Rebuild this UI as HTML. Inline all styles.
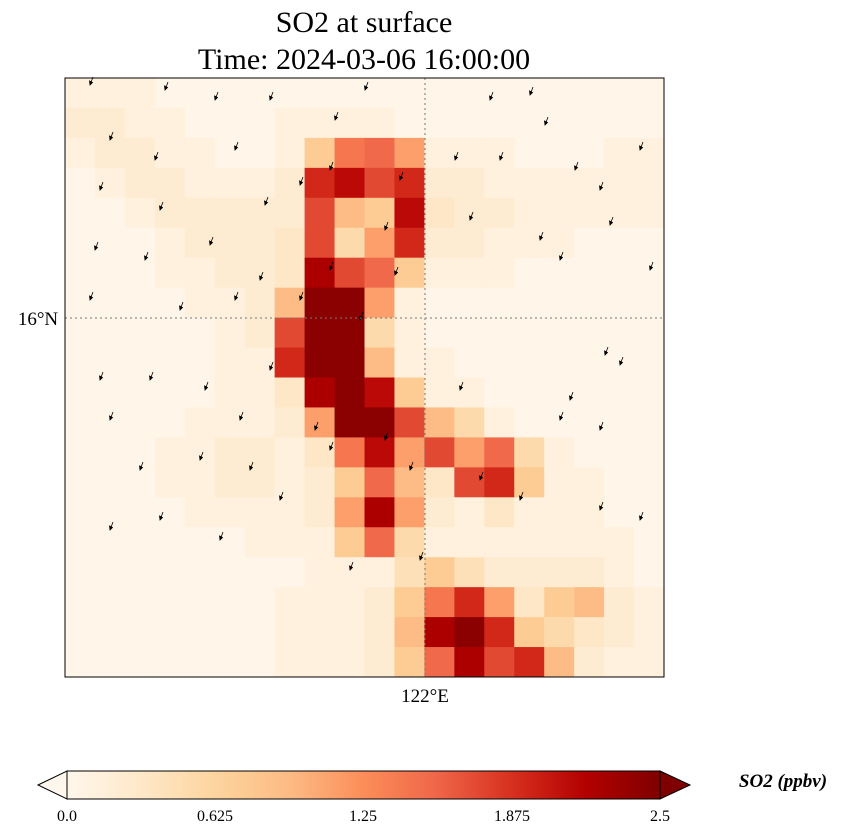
<!DOCTYPE html>
<html><head><meta charset="utf-8">
<style>
body{margin:0;background:#fff;width:841px;height:836px;overflow:hidden;font-family:"Liberation Serif",serif;}
svg{position:absolute;left:0;top:0;}
</style></head>
<body>
<svg id="s" width="841" height="836">
<text x="364" y="32" font-size="30" text-anchor="middle">SO2 at surface</text>
<text x="364" y="69" font-size="30" text-anchor="middle">Time: 2024-03-06 16:00:00</text>
<g id="heat"></g>
<g id="arrows"></g>
<line x1="425" y1="78" x2="425" y2="677" stroke="#777" stroke-dasharray="2,3"/>
<line x1="65" y1="318" x2="664" y2="318" stroke="#777" stroke-dasharray="2,3"/>
<rect x="65" y="78" width="599" height="599" fill="none" stroke="#000"/>
<text x="38" y="325" font-size="19" text-anchor="middle">16°N</text>
<text x="425" y="702" font-size="19" text-anchor="middle">122°E</text>
<defs><linearGradient id="cg" x1="0" x2="1" y1="0" y2="0">
<stop offset="0" stop-color="#fff7ec"/><stop offset="0.125" stop-color="#fee8c8"/><stop offset="0.25" stop-color="#fdd49e"/><stop offset="0.375" stop-color="#fdbb84"/><stop offset="0.5" stop-color="#fc8d59"/><stop offset="0.625" stop-color="#ef6548"/><stop offset="0.75" stop-color="#d7301f"/><stop offset="0.875" stop-color="#b30000"/><stop offset="1" stop-color="#7f0000"/></linearGradient></defs>
<g>
<polygon points="38,785 67,771 67,799" fill="#fff7ec" stroke="#000"/>
<polygon points="660,771 690,785 660,799" fill="#7f0000" stroke="#000"/>
<rect x="67" y="771" width="593" height="28" fill="url(#cg)" stroke="#000"/>
<text x="67" y="821" font-size="16" text-anchor="middle">0.0</text>
<text x="215" y="821" font-size="16" text-anchor="middle">0.625</text>
<text x="363" y="821" font-size="16" text-anchor="middle">1.25</text>
<text x="512" y="821" font-size="16" text-anchor="middle">1.875</text>
<text x="660" y="821" font-size="16" text-anchor="middle">2.5</text>
</g>
<text x="783" y="787" font-size="19" font-weight="bold" font-style="italic" text-anchor="middle">SO2 (ppbv)</text>
</svg>
<script>
const rows = [
"2 2 2 1 1 1 1 1 1 1 1 1 1 1 1 1 1 1 1 1",
"3 3 2 2 1 1 1 2 2 2 2 1 1 1 1 1 1 1 1 1",
"2 3 3 2 2 1 1 2 8 15 16 12 2 2 2 1 1 1 2 2",
"1 2 3 3 2 2 2 3 20 22 18 20 3 3 2 2 2 2 2 2",
"1 1 2 3 3 3 3 3 18 10 8 22 4 3 3 2 2 2 2 2",
"1 1 1 2 3 3 3 4 18 6 12 20 3 3 2 2 2 1 1 1",
"1 1 1 2 2 3 3 4 23 18 16 8 2 2 2 1 1 1 1 1",
"1 1 1 1 2 2 3 10 25 25 12 2 1 1 1 1 1 1 1 1",
"1 1 1 1 1 2 3 18 25 25 6 2 1 1 1 1 1 1 1 1",
"1 1 1 1 1 2 2 20 25 25 10 2 2 1 1 1 1 1 1 1",
"1 1 1 1 1 2 2 4 23 25 22 8 2 2 1 1 1 1 1 1",
"1 1 1 1 2 2 2 3 12 25 25 18 10 6 2 1 1 1 1 1",
"1 1 1 2 2 3 3 2 4 15 22 12 18 12 16 6 2 1 1 1",
"1 1 1 2 2 3 3 2 3 8 16 10 4 18 20 8 2 2 1 1",
"1 1 1 1 2 2 2 2 3 12 23 12 3 2 4 2 2 2 1 1",
"1 1 1 1 1 1 2 2 2 8 16 6 2 2 2 2 2 2 2 1",
"1 1 1 1 1 1 1 1 2 2 2 5 8 5 3 3 3 3 2 1",
"1 1 1 1 1 1 1 2 2 2 3 8 15 20 12 4 8 10 3 2",
"1 1 1 1 1 1 1 2 2 2 3 10 23 25 20 8 6 4 3 2",
"1 1 1 1 1 1 1 2 2 2 3 8 16 23 18 20 10 3 2 2"];
const stops=["#fff7ec","#fee8c8","#fdd49e","#fdbb84","#fc8d59","#ef6548","#d7301f","#b30000","#7f0000"];
function hex(c){return [1,3,5].map(i=>parseInt(c.substr(i,2),16));}
function cmap(v){let t=Math.max(0,Math.min(1,v/2.5))*8;let i=Math.min(7,Math.floor(t));let f=t-i;
 let a=hex(stops[i]),b=hex(stops[i+1]);return "rgb("+a.map((x,k)=>Math.round(x+(b[k]-x)*f)).join(",")+")";}
const x0=65,y0=78,W=599,H=599;
const grid=rows.map(r=>r.split(" ").map(Number));
const nr=grid.length,nc=grid[0].length;
const xs=i=>x0+i*W/nc, ys=j=>y0+j*H/nr;
const heat=document.getElementById("heat");
const NS="http://www.w3.org/2000/svg";
grid.forEach((row,j)=>row.forEach((v,i)=>{
 const r=document.createElementNS(NS,"rect");
 r.setAttribute("x",xs(i));r.setAttribute("y",ys(j));
 r.setAttribute("width",W/nc+0.5);r.setAttribute("height",H/nr+0.5);
 r.setAttribute("fill",cmap(Math.max(0,v/10-0.07)));
 
 
 heat.appendChild(r);
}));
const arrowX=[90,165,215,270,335,365,490,530,545,110,155,235,330,400,455,500,575,600,640,100,160,265,300,385,470,540,610,95,145,210,260,330,395,560,650,90,180,235,300,360,605,620,100,150,205,270,460,570,110,240,315,385,560,600,140,200,250,330,410,480,520,600,640,110,160,220,280,350,420];
const arrowY=[85,90,100,100,120,90,100,95,125,140,160,150,170,180,160,160,170,190,150,190,210,205,185,230,220,240,225,250,260,245,280,270,275,260,270,300,310,300,300,320,355,365,380,380,390,370,390,400,420,420,430,440,420,430,470,460,470,450,470,480,500,510,520,530,520,540,500,570,560];
const arrowsG=document.getElementById("arrows");
arrowX.forEach((x,k)=>{
 const y=arrowY[k];
 const p=document.createElementNS(NS,"path");
 p.setAttribute("d",`M${x+3},${y-8} L${x},${y} M${x},${y} l-0.5,-4 l3,1.5 z`);
 p.setAttribute("stroke","#000");p.setAttribute("stroke-width","0.8");p.setAttribute("fill","#000");
 
 
 arrowsG.appendChild(p);
});
</script>
</body></html>
